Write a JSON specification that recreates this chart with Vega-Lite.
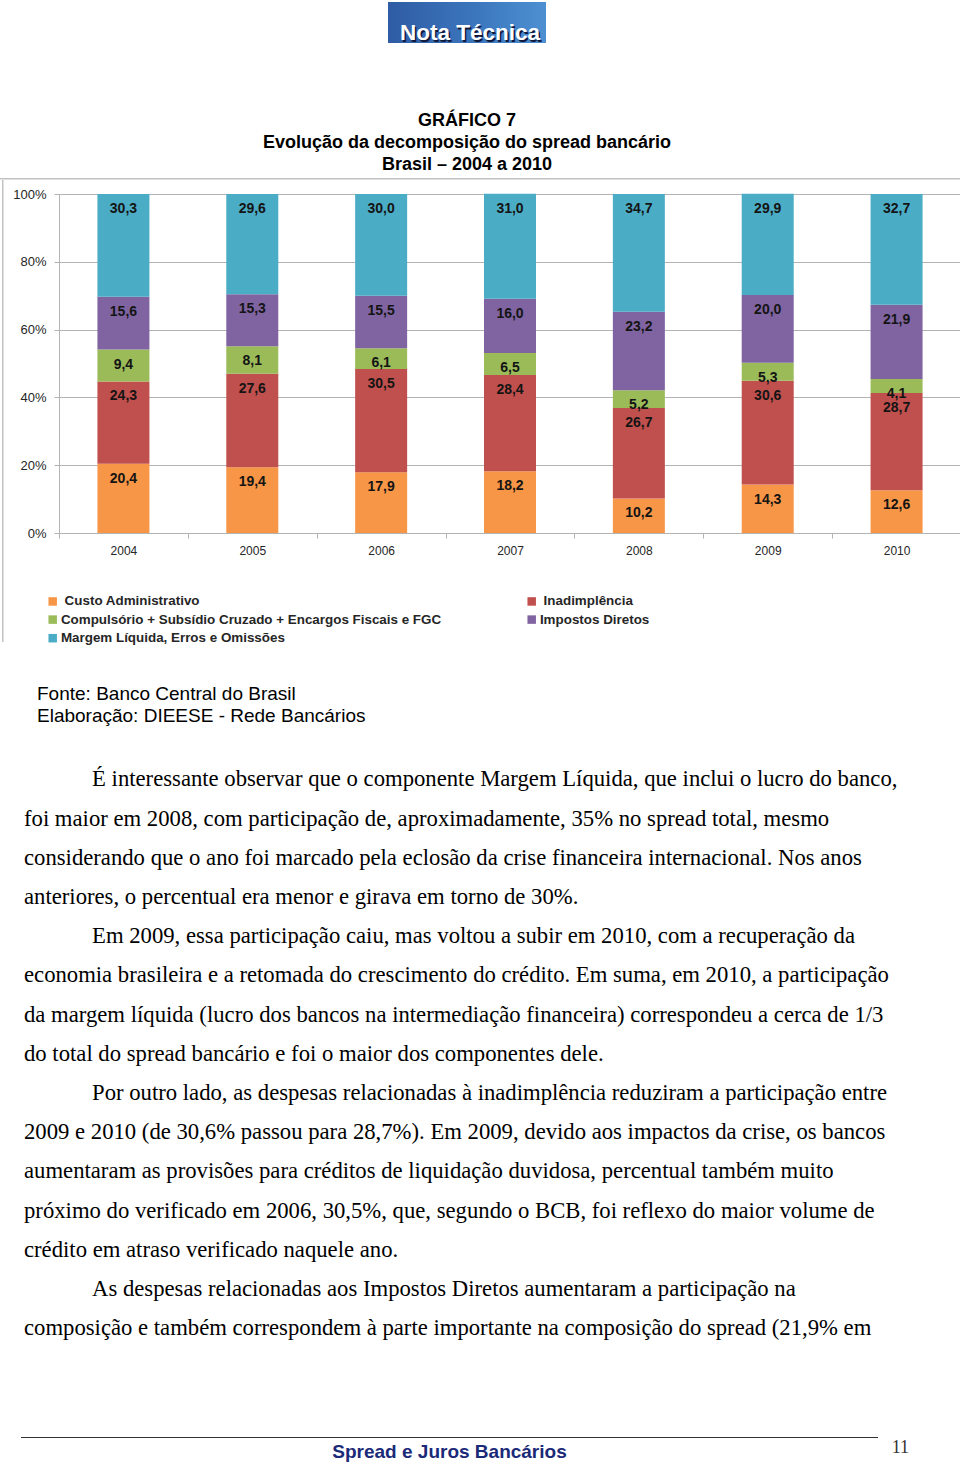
{
  "$schema": "https://vega.github.io/schema/vega-lite/v6.json",
  "background": "white",
  "padding": {"left": 0, "top": 2, "right": 0, "bottom": 0},
  "spacing": 0,
  "config": {
    "view": {"stroke": null},
    "font": "Liberation Sans",
    "locale": {"number": {"decimal": ",", "thousands": ".", "grouping": [3], "currency": ["R$", ""]}},
    "concat": {"spacing": 0},
    "title": {"color": "black"}
  },
  "vconcat": [
    {
      "spacing": 0,
      "hconcat": [
        {"width": 388, "height": 109.3, "data": {"values": [{}]}, "mark": {"type": "text", "text": "", "fontSize": 0}},
        {
          "width": 158, "height": 41,
          "view": {"fill": {"gradient": "linear", "x1": 0, "y1": 0, "x2": 1, "y2": 0, "stops": [{"offset": 0, "color": "#2f5ca4"}, {"offset": 0.55, "color": "#3b76bd"}, {"offset": 1, "color": "#4d90d2"}]}},
          "data": {"values": [{"logo": "Nota Técnica"}]},
          "layer": [
            {"mark": {"type": "text", "font": "Liberation Sans", "fontSize": 22.5, "fontWeight": "bold", "fill": "#111a3c", "align": "center", "baseline": "alphabetic", "dx": 4.5, "dy": 19}, "encoding": {"text": {"field": "logo"}}},
            {"mark": {"type": "text", "font": "Liberation Sans", "fontSize": 22.5, "fontWeight": "bold", "fill": "white", "align": "center", "baseline": "alphabetic", "dx": 3, "dy": 17.5}, "encoding": {"text": {"field": "logo"}}}
          ]
        }
      ]
    },
    {
      "width": 960, "height": 1.5,
      "view": {"fill": "#c2c2c2"},
      "title": {"text": ["GRÁFICO 7", "Evolução da decomposição do spread bancário", "Brasil – 2004 a 2010"], "fontSize": 18, "fontWeight": "bold", "lineHeight": 22, "anchor": "middle", "frame": "group", "dx": -13, "offset": 3.7, "color": "black", "font": "Liberation Sans"},
      "data": {"values": [{}]},
      "mark": {"type": "text", "text": "", "fontSize": 0}
    },
    {
      "spacing": 0,
      "hconcat": [
        {"width": 2, "height": 1, "data": {"values": [{}]}, "mark": {"type": "text", "text": "", "fontSize": 0}},
        {"width": 1.5, "height": 462, "view": {"fill": "#c2c2c2"}, "data": {"values": [{}]}, "mark": {"type": "text", "text": "", "fontSize": 0}},
        {
          "spacing": 0,
          "vconcat": [
            {"width": 1, "height": 7.75, "data": {"values": [{}]}, "mark": {"type": "text", "text": "", "fontSize": 0}},
            {
              "width": 902, "height": 339,
              "data": {"values": [
                {"ano": "2004", "componente": "Custo Administrativo", "valor": 20.4},
                {"ano": "2004", "componente": "Inadimplência", "valor": 24.3},
                {"ano": "2004", "componente": "Compulsório + Subsídio Cruzado + Encargos Fiscais e FGC", "valor": 9.4},
                {"ano": "2004", "componente": "Impostos Diretos", "valor": 15.6},
                {"ano": "2004", "componente": "Margem Líquida, Erros e Omissões", "valor": 30.3},
                {"ano": "2005", "componente": "Custo Administrativo", "valor": 19.4},
                {"ano": "2005", "componente": "Inadimplência", "valor": 27.6},
                {"ano": "2005", "componente": "Compulsório + Subsídio Cruzado + Encargos Fiscais e FGC", "valor": 8.1},
                {"ano": "2005", "componente": "Impostos Diretos", "valor": 15.3},
                {"ano": "2005", "componente": "Margem Líquida, Erros e Omissões", "valor": 29.6},
                {"ano": "2006", "componente": "Custo Administrativo", "valor": 17.9},
                {"ano": "2006", "componente": "Inadimplência", "valor": 30.5},
                {"ano": "2006", "componente": "Compulsório + Subsídio Cruzado + Encargos Fiscais e FGC", "valor": 6.1},
                {"ano": "2006", "componente": "Impostos Diretos", "valor": 15.5},
                {"ano": "2006", "componente": "Margem Líquida, Erros e Omissões", "valor": 30.0},
                {"ano": "2007", "componente": "Custo Administrativo", "valor": 18.2},
                {"ano": "2007", "componente": "Inadimplência", "valor": 28.4},
                {"ano": "2007", "componente": "Compulsório + Subsídio Cruzado + Encargos Fiscais e FGC", "valor": 6.5},
                {"ano": "2007", "componente": "Impostos Diretos", "valor": 16.0},
                {"ano": "2007", "componente": "Margem Líquida, Erros e Omissões", "valor": 31.0},
                {"ano": "2008", "componente": "Custo Administrativo", "valor": 10.2},
                {"ano": "2008", "componente": "Inadimplência", "valor": 26.7},
                {"ano": "2008", "componente": "Compulsório + Subsídio Cruzado + Encargos Fiscais e FGC", "valor": 5.2},
                {"ano": "2008", "componente": "Impostos Diretos", "valor": 23.2},
                {"ano": "2008", "componente": "Margem Líquida, Erros e Omissões", "valor": 34.7},
                {"ano": "2009", "componente": "Custo Administrativo", "valor": 14.3},
                {"ano": "2009", "componente": "Inadimplência", "valor": 30.6},
                {"ano": "2009", "componente": "Compulsório + Subsídio Cruzado + Encargos Fiscais e FGC", "valor": 5.3},
                {"ano": "2009", "componente": "Impostos Diretos", "valor": 20.0},
                {"ano": "2009", "componente": "Margem Líquida, Erros e Omissões", "valor": 29.9},
                {"ano": "2010", "componente": "Custo Administrativo", "valor": 12.6},
                {"ano": "2010", "componente": "Inadimplência", "valor": 28.7},
                {"ano": "2010", "componente": "Compulsório + Subsídio Cruzado + Encargos Fiscais e FGC", "valor": 4.1},
                {"ano": "2010", "componente": "Impostos Diretos", "valor": 21.9},
                {"ano": "2010", "componente": "Margem Líquida, Erros e Omissões", "valor": 32.7}
              ]},
              "transform": [{"stack": "valor", "groupby": ["ano"], "as": ["v0", "v1"]}],
              "encoding": {
                "x": {
                  "field": "ano", "type": "ordinal", "title": null,
                  "scale": {"paddingInner": 0, "paddingOuter": 0},
                  "axis": {"labelAngle": 0, "labelFontSize": 12, "labelColor": "#262626", "labelPadding": 7, "tickBand": "extent", "tickSize": 5, "tickColor": "#b3b3b3", "domainColor": "#b3b3b3", "grid": false}
                }
              },
              "layer": [
                {
                  "mark": {"type": "bar", "size": 52},
                  "encoding": {
                    "y": {
                      "field": "v0", "type": "quantitative", "title": null,
                      "scale": {"domain": [0, 100], "nice": false},
                      "axis": {"values": [0, 10, 20, 30, 40, 50, 60, 70, 80, 90, 100], "labelExpr": "datum.value + '%'", "labelOverlap": false, "labelFontSize": 13, "labelColor": "#262626", "labelPadding": 8, "tickSize": 5, "tickColor": "#b3b3b3", "domainColor": "#b3b3b3", "gridColor": "#b3b3b3", "grid": true, "minExtent": 54.5, "maxExtent": 54.5}
                    },
                    "y2": {"field": "v1"},
                    "color": {
                      "field": "componente", "type": "nominal",
                      "scale": {
                        "domain": ["Custo Administrativo", "Inadimplência", "Compulsório + Subsídio Cruzado + Encargos Fiscais e FGC", "Impostos Diretos", "Margem Líquida, Erros e Omissões"],
                        "range": ["#F79646", "#C0504D", "#9BBB59", "#8064A2", "#4BACC6"]
                      },
                      "legend": {
                        "orient": "none", "legendX": 46, "legendY": 592.3, "direction": "horizontal", "columns": 2, "title": null, "padding": 0,
                        "symbolType": "square", "symbolSize": 72, "symbolStrokeWidth": 0,
                        "labelFontSize": 13.4, "labelFontWeight": "bold", "labelColor": "#262626", "labelLimit": 600,
                        "columnPadding": 83, "rowPadding": 3.6, "labelOffset": 1.5,
                        "labelExpr": "(datum.label == 'Custo Administrativo' || datum.label == 'Inadimplência') ? '\u200b\u00a0' + datum.label : datum.label"
                      }
                    }
                  }
                },
                {
                  "mark": {"type": "text", "fontSize": 14, "fontWeight": "bold", "color": "#141414", "baseline": "middle", "dy": 15},
                  "encoding": {
                    "y": {"field": "v1", "type": "quantitative", "scale": {"domain": [0, 100], "nice": false}},
                    "text": {"field": "valor", "type": "quantitative", "format": ".1f"}
                  }
                }
              ]
            }
          ]
        }
      ]
    },
    {
      "width": 960, "height": 42.75,
      "data": {"values": [{}]},
      "mark": {"type": "text", "text": "", "fontSize": 0},
      "title": {"text": ["Fonte: Banco Central do Brasil", "Elaboração: DIEESE - Rede Bancários"], "orient": "bottom", "anchor": "start", "frame": "group", "dx": 37, "offset": 0, "fontSize": 19, "fontWeight": "normal", "lineHeight": 22, "color": "black", "font": "Liberation Sans"}
    },
    {
      "width": 960, "height": 42.35,
      "data": {"values": [{}]},
      "mark": {"type": "text", "text": "", "fontSize": 0},
      "title": {
        "text": [
          "\u200b\u2003\u2003\u2003É interessante observar que o componente Margem Líquida, que inclui o lucro do banco,",
          "foi maior em 2008, com participação de, aproximadamente, 35% no spread total, mesmo",
          "considerando que o ano foi marcado pela eclosão da crise financeira internacional. Nos anos",
          "anteriores, o percentual era menor e girava em torno de 30%.",
          "\u200b\u2003\u2003\u2003Em 2009, essa participação caiu, mas voltou a subir em 2010, com a recuperação da",
          "economia brasileira e a retomada do crescimento do crédito. Em suma, em 2010, a participação",
          "da margem líquida (lucro dos bancos na intermediação financeira) correspondeu a cerca de 1/3",
          "do total do spread bancário e foi o maior dos componentes dele.",
          "\u200b\u2003\u2003\u2003Por outro lado, as despesas relacionadas à inadimplência reduziram a participação entre",
          "2009 e 2010 (de 30,6% passou para 28,7%). Em 2009, devido aos impactos da crise, os bancos",
          "aumentaram as provisões para créditos de liquidação duvidosa, percentual também muito",
          "próximo do verificado em 2006, 30,5%, que, segundo o BCB, foi reflexo do maior volume de",
          "crédito em atraso verificado naquele ano.",
          "\u200b\u2003\u2003\u2003As despesas relacionadas aos Impostos Diretos aumentaram a participação na",
          "composição e também correspondem à parte importante na composição do spread (21,9% em"
        ],
        "orient": "bottom", "anchor": "start", "frame": "group", "dx": 24, "offset": 0,
        "fontSize": 22.7, "fontWeight": "normal", "lineHeight": 39.2, "color": "black", "font": "Liberation Serif"
      }
    },
    {"width": 1, "height": 96.5, "data": {"values": [{}]}, "mark": {"type": "text", "text": "", "fontSize": 0}},
    {
      "spacing": 0,
      "hconcat": [
        {"width": 21, "height": 1, "data": {"values": [{}]}, "mark": {"type": "text", "text": "", "fontSize": 0}},
        {
          "width": 857, "height": 1,
          "view": {"fill": "#333333"},
          "data": {"values": [{}]},
          "mark": {"type": "text", "text": "", "fontSize": 0},
          "title": {"text": "Spread e Juros Bancários", "orient": "bottom", "anchor": "middle", "frame": "group", "offset": 5.3, "fontSize": 19, "fontWeight": "bold", "color": "#1b2a78", "font": "Liberation Sans"}
        },
        {
          "width": 31, "height": 1,
          "data": {"values": [{}]},
          "mark": {"type": "text", "text": "", "fontSize": 0},
          "title": {"text": "11", "orient": "bottom", "anchor": "end", "frame": "group", "offset": 1, "fontSize": 18, "fontWeight": "normal", "color": "#333333", "font": "Liberation Serif"}
        }
      ]
    }
  ]
}
